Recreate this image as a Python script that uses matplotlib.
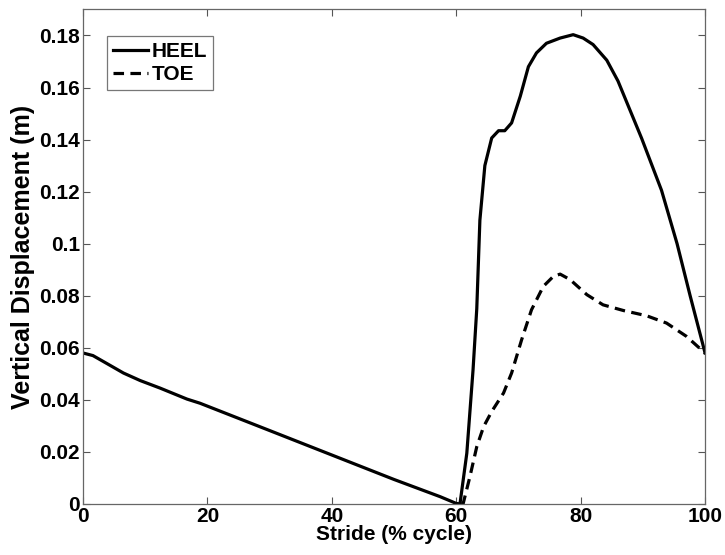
import matplotlib.pyplot as plt

plt.rcParams['font.family'] = ['Liberation Sans', 'DejaVu Sans']
plt.rcParams['font.weight'] = 'bold'

# heel marker vertical displacement (m) vs stride (% cycle)
heel_x = [0, 1.6, 3.8, 6.5, 9.2, 12.4, 16.7, 18.8, 30, 40, 50, 57.4, 60.0, 60.6,
          61.7, 62.7, 63.3, 63.8, 64.6, 65.7, 66.8, 67.8, 68.9, 70.3, 71.6, 72.9,
          74.5, 76.7, 78.8, 80.4, 82.0, 84.2, 86.0, 89.8, 93.0, 95.5, 97.6, 100]
heel_y = [0.058, 0.057, 0.054, 0.0503, 0.0474, 0.0445, 0.0403, 0.0387, 0.0282, 0.0188,
          0.0094, 0.0028, 0.0002, 0.0, 0.0195, 0.0515, 0.0750, 0.109, 0.130, 0.1406,
          0.1434, 0.1434, 0.1464, 0.1567, 0.168, 0.1733, 0.177, 0.179, 0.1803, 0.179,
          0.1765, 0.1705, 0.1625, 0.1405, 0.1205, 0.100, 0.080, 0.058]

# toe marker
toe_x = [60.8, 61.1, 62.2, 63.3, 64.4, 65.7, 67.6, 68.9, 70.5, 72.1, 74.0, 75.6, 76.7,
         78.3, 81.0, 83.6, 86.9, 90.6, 93.8, 97.0, 99.7, 100]
toe_y = [0.0, 0.0, 0.0105, 0.022, 0.0297, 0.0355, 0.0426, 0.0503, 0.063, 0.0746, 0.0836,
         0.0874, 0.0883, 0.0862, 0.0804, 0.0765, 0.0743, 0.0723, 0.0695, 0.0644, 0.0586, 0.058]

xticks = [0, 20, 40, 60, 80, 100]
yticks = [0, 0.02, 0.04, 0.06, 0.08, 0.1, 0.12, 0.14, 0.16, 0.18]
ytick_labels = ['0', '0.02', '0.04', '0.06', '0.08', '0.1', '0.12', '0.14', '0.16', '0.18']

fig = plt.figure(figsize=(7.25, 5.55), dpi=100)
ax = fig.add_axes([0.1145, 0.092, 0.858, 0.891])

ax.plot(heel_x, heel_y, color='black', lw=2.3, label='HEEL')
ax.plot(toe_x, toe_y, color='black', lw=2.3, dashes=(3.3, 2.0), label='TOE')

ax.set_xlim(0, 100)
ax.set_ylim(0, 0.19)
ax.set_xticks(xticks)
ax.set_yticks(yticks)
ax.set_yticklabels(ytick_labels)
ax.tick_params(direction='in', length=5, width=0.8, color='#555555',
               top=True, right=True, labelsize=15)
ax.tick_params(axis='x', pad=2)
ax.tick_params(axis='y', pad=2)
for s in ax.spines.values():
    s.set_color('#666666')
    s.set_linewidth(0.9)

ax.set_xlabel('Stride (% cycle)', fontsize=15, fontweight='bold', labelpad=-0.5)
ax.set_ylabel('Vertical Displacement (m)', fontsize=18, fontweight='bold', labelpad=3)

leg = ax.legend(loc='upper left', bbox_to_anchor=(0.038, 0.947), fontsize=15,
                handlelength=1.7, handletextpad=0.15, borderpad=0.3,
                labelspacing=0.2, fancybox=False, borderaxespad=0)
leg.get_frame().set_edgecolor('#555555')
leg.get_frame().set_linewidth(0.9)

fig.savefig('out.png', dpi=100)
